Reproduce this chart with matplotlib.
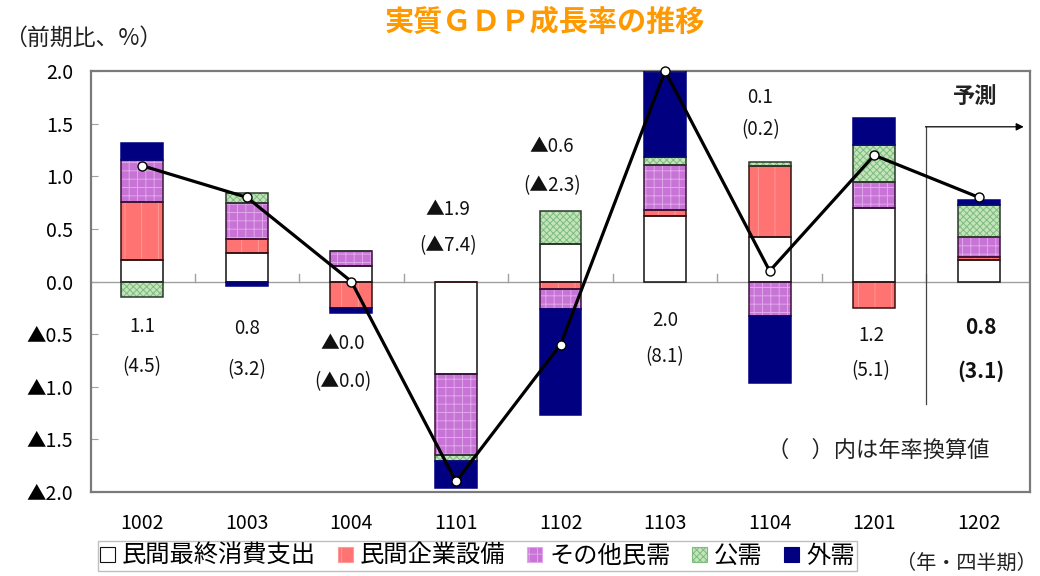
import numpy as np
import matplotlib
matplotlib.use("Agg")
import matplotlib.pyplot as plt
from matplotlib.patches import Patch

plt.rcParams['font.family'] = ['Noto Sans CJK JP', 'DejaVu Sans']
plt.rcParams['hatch.linewidth'] = 0.7

# ---- data -------------------------------------------------------------
quarters = ['1002', '1003', '1004', '1101', '1102', '1103', '1104', '1201', '1202']

consumption   = [0.20, 0.27, 0.15, -0.88, 0.36, 0.62, 0.42, 0.70, 0.20]   # 民間最終消費支出
investment    = [0.56, 0.13, -0.25, 0.00, -0.07, 0.06, 0.68, -0.25, 0.03]  # 民間企業設備
other_private = [0.39, 0.35, 0.14, -0.77, -0.19, 0.43, -0.33, 0.25, 0.19]  # その他民需
public_demand = [-0.15, 0.09, 0.00, -0.06, 0.31, 0.07, 0.04, 0.35, 0.31]   # 公需
external      = [0.17, -0.04, -0.05, -0.25, -1.01, 0.82, -0.63, 0.25, 0.04] # 外需

gdp_qoq = [1.1, 0.8, -0.0, -1.9, -0.6, 2.0, 0.1, 1.2, 0.8]       # 前期比
gdp_annual = [4.5, 3.2, -0.0, -7.4, -2.3, 8.1, 0.2, 5.1, 3.1]    # 年率換算値

series_names = ['民間最終消費支出', '民間企業設備', 'その他民需', '公需', '外需']
y_ticks = [-2.0, -1.5, -1.0, -0.5, 0.0, 0.5, 1.0, 1.5, 2.0]


def fmt(v):
    """Japanese style: negatives are shown with a leading ▲."""
    s = f"{abs(v):.1f}"
    neg = v < 0 or np.signbit(v)
    return ('▲' + s) if neg else s


# ---- styles -----------------------------------------------------------
styles = [
    dict(face='white', hatch=None, hcol=None, edge='#111111'),
    dict(face='#FF7373', hatch='|', hcol='#FF9A9A', edge='#3a1010'),
    dict(face='#C874D6', hatch='++', hcol='#E0A8EA', edge='#3a103a'),
    dict(face='#C4E4BC', hatch='xxxxx', hcol='#7DBB7D', edge='#2a3a2a'),
    dict(face='#000080', hatch=None, hcol=None, edge='#000080'),
]

fig = plt.figure(figsize=(10.4, 5.76), dpi=100)
ax = fig.add_axes([0.0875, 0.1458, 0.9029, 0.7309])

x = np.arange(len(quarters))
width = 0.40
pos_base = np.zeros(len(x))
neg_base = np.zeros(len(x))

ax.axhline(0, color='#a0a0a0', lw=1.0, zorder=1)
for b in np.arange(0.5, len(x) - 0.5, 1.0):
    ax.plot([b, b], [0, 0.07], color='#a0a0a0', lw=1.0, zorder=1)

for vals, st in zip([consumption, investment, other_private, public_demand, external], styles):
    v = np.array(vals, dtype=float)
    bottoms = np.where(v >= 0, pos_base, neg_base)
    if st['hatch']:
        ax.bar(x, v, width, bottom=bottoms, color=st['face'], edgecolor=st['hcol'],
               hatch=st['hatch'], linewidth=0, zorder=2)
    else:
        ax.bar(x, v, width, bottom=bottoms, color=st['face'], linewidth=0, zorder=2)
    ax.bar(x, v, width, bottom=bottoms, fill=False, edgecolor=st['edge'],
           linewidth=1.1, zorder=3)
    pos_base = pos_base + np.where(v >= 0, v, 0)
    neg_base = neg_base + np.where(v < 0, v, 0)

ax.plot(x, gdp_qoq, color='black', lw=2.3, marker='o', ms=6.5, mfc='white',
        mec='black', mew=1.0, zorder=6, clip_on=False)

# value labels: quarter-on-quarter and annualised
label_pos = [(0.0, -0.43, -0.81), (0.0, -0.45, -0.84), (-0.08, -0.59, -0.95),
             (-0.08, 0.68, 0.34), (-0.08, 1.28, 0.91), (0.0, -0.37, -0.71),
             (-0.09, 1.75, 1.44), (-0.03, -0.51, -0.85), (0.02, -0.44, -0.85)]
for i, (dx, y1, y2) in enumerate(label_pos):
    last = i == len(x) - 1
    kw = dict(ha='center', va='center', fontsize=15 if last else 13.5,
              fontweight='bold' if last else 'normal', color='#111111')
    ax.text(x[i] + dx, y1, fmt(gdp_qoq[i]), **kw)
    ax.text(x[i] + dx, y2, '(' + fmt(gdp_annual[i]) + ')', **kw)

# forecast marker
ax.plot([7.5, 7.5], [1.47, -1.16], color='#444444', lw=0.9, zorder=4)
ax.annotate('', xy=(8.43, 1.47), xytext=(7.49, 1.47),
            arrowprops=dict(arrowstyle='-|>', color='black', lw=0.9,
                            mutation_scale=11, shrinkA=0, shrinkB=0), zorder=4)
ax.text(7.97, 1.76, '予測', ha='center', va='center', fontsize=16,
        fontweight='bold', color='#222222')
ax.text(7.04, -1.60, '（　）内は年率換算値', ha='center', va='center',
        fontsize=16, color='#222222')

ax.set_xlim(-0.49, 8.49)
ax.set_ylim(-2.0, 2.0)
ax.set_yticks(y_ticks)
ax.set_yticklabels([fmt(v) if v != 0 else '0.0' for v in y_ticks], fontsize=14)
ax.set_xticks(x)
ax.set_xticklabels(quarters, fontsize=14)
ax.tick_params(axis='y', direction='in', length=5, color='#a0a0a0', pad=13)
ax.tick_params(axis='x', length=0, pad=15)
for sp in ax.spines.values():
    sp.set_color('#7a7a7a')
    sp.set_linewidth(1.6)

# titles
fig.text(0.524, 0.962, '実質ＧＤＰ成長率の推移', ha='center', va='center',
         fontsize=21, fontweight='bold', color='#FF9900')
fig.text(0.004, 0.934, '（前期比、%）', ha='left', va='center', fontsize=16.5,
         color='#222222')
fig.text(0.997, 0.022, '（年・四半期）', ha='right', va='center', fontsize=14.5,
         color='#222222')

handles = []
for st in styles:
    if st['hatch']:
        handles.append(Patch(facecolor=st['face'], edgecolor=st['hcol'], hatch=st['hatch'],
                             linewidth=0.8))
    else:
        handles.append(Patch(facecolor=st['face'], edgecolor=st['edge'], linewidth=0.8))
leg = fig.legend(handles, series_names, ncol=5, loc='lower left',
                 bbox_to_anchor=(0.094, 0.008), frameon=True, fancybox=False,
                 edgecolor='#b0b0b0', fontsize=17.5, handlelength=0.6,
                 handleheight=0.6, handletextpad=0.3, columnspacing=0.9,
                 borderpad=0.1, borderaxespad=0)
leg.get_frame().set_linewidth(1.0)

fig.savefig('out.png', dpi=100)
